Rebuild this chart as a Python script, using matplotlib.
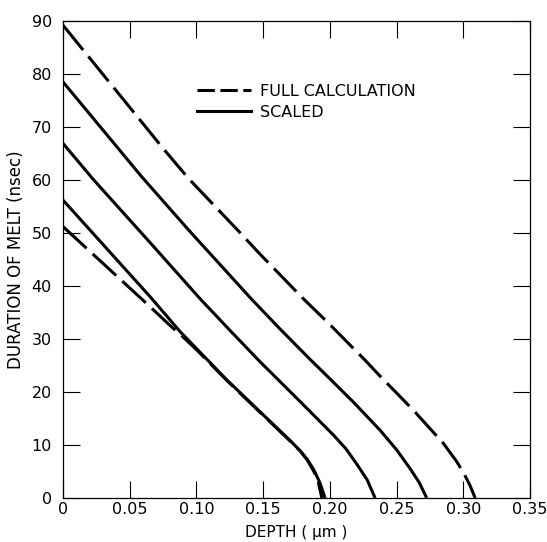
import matplotlib
matplotlib.use('Agg')
import matplotlib.pyplot as plt
from matplotlib.lines import Line2D

# Curves: depth (um) vs duration of melt (nsec)
full_upper_x = [0.0, 0.0752, 0.0940, 0.1314, 0.1477, 0.1801, 0.2001, 0.2264, 0.2376, 0.2551,
                0.2639, 0.2851, 0.2950, 0.3001, 0.3050, 0.3089]
full_upper_y = [89.2, 65.9, 60.3, 50.4, 46.0, 37.6, 32.7, 26.0, 23.0, 18.5,
                16.2, 10.3, 6.9, 4.8, 2.4, 0.0]

full_lower_x = [0.0, 0.0652, 0.0800, 0.0877, 0.1000, 0.1227, 0.1500, 0.1700, 0.1777, 0.1830,
                0.1880, 0.1915, 0.1940]
full_lower_y = [51.2, 36.1, 32.6, 30.9, 28.0, 22.2, 15.6, 10.8, 8.9, 7.2,
                5.0, 2.8, 0.0]

scaled_1_x = [0.0, 0.0590, 0.0940, 0.1410, 0.1630, 0.1850, 0.2000, 0.2180, 0.2376, 0.2500,
              0.2600, 0.2670, 0.2726]
scaled_1_y = [78.5, 60.6, 50.6, 37.6, 31.8, 26.2, 22.5, 18.0, 12.8, 9.1,
              5.6, 2.9, 0.0]

scaled_2_x = [0.0, 0.0227, 0.0652, 0.1027, 0.1252, 0.1477, 0.1777, 0.2026, 0.2120, 0.2202,
              0.2280, 0.2339]
scaled_2_y = [66.9, 60.1, 48.2, 37.6, 31.6, 25.7, 18.2, 11.9, 9.3, 6.4,
              3.4, 0.0]

scaled_3_x = [0.0, 0.0652, 0.0877, 0.1227, 0.1500, 0.1700, 0.1777, 0.1830, 0.1880, 0.1925, 0.1964]
scaled_3_y = [56.2, 38.0, 31.4, 22.3, 15.7, 10.9, 8.9, 7.3, 5.3, 2.9, 0.0]

x_ticks = [0, 0.05, 0.10, 0.15, 0.20, 0.25, 0.30, 0.35]
x_tick_labels = ['0', '0.05', '0.10', '0.15', '0.20', '0.25', '0.30', '0.35']
y_ticks = [0, 10, 20, 30, 40, 50, 60, 70, 80, 90]

plt.rcParams['lines.scale_dashes'] = False

fig = plt.figure(figsize=(5.47, 5.42), dpi=100)
ax = fig.add_axes([0.1152, 0.0812, 0.8537, 0.8801])

lw = 2.2
dash = (0, (23.0, 6.0))
ax.plot(full_upper_x, full_upper_y, color='black', lw=lw, linestyle=dash, dash_capstyle='butt')
ax.plot(full_lower_x, full_lower_y, color='black', lw=lw, linestyle=dash, dash_capstyle='butt')
for xs, ys in [(scaled_1_x, scaled_1_y), (scaled_2_x, scaled_2_y), (scaled_3_x, scaled_3_y)]:
    ax.plot(xs, ys, color='black', lw=lw, solid_capstyle='butt')

ax.set_xlim(0, 0.35)
ax.set_ylim(0, 90)
ax.set_xticks(x_ticks)
ax.set_xticklabels(x_tick_labels)
ax.set_yticks(y_ticks)

ax.tick_params(direction='in', length=12, width=0.8, top=True, right=True,
               labelsize=11.5, pad=3, colors='black')
ax.tick_params(axis='y', pad=8)
for s in ax.spines.values():
    s.set_linewidth(0.9)

ax.set_xlabel('DEPTH ( μm )', fontsize=11, labelpad=6)
ax.set_ylabel('DURATION OF MELT (nsec)', fontsize=12, labelpad=5)

# legend with proxy handles (shorter dashes as in the original)
handles = [
    Line2D([], [], color='black', lw=lw, linestyle=(0, (12.5, 4.0)), dash_capstyle='butt'),
    Line2D([], [], color='black', lw=lw),
]
ax.legend(handles, ['FULL CALCULATION', 'SCALED'], loc='upper left',
          bbox_to_anchor=(0.287, 0.868), frameon=False, fontsize=11.5,
          handlelength=3.4, handletextpad=0.55, labelspacing=0.35, borderpad=0,
          borderaxespad=0)

fig.savefig('out.png', dpi=100)
